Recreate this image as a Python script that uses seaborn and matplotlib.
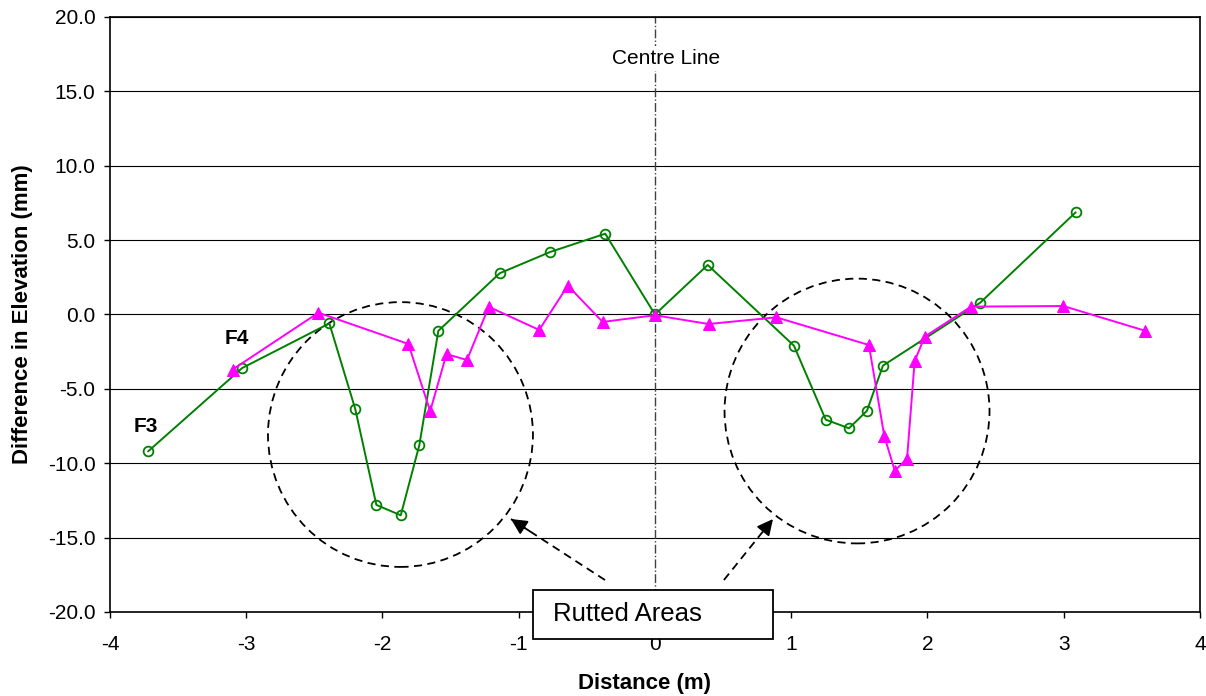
import numpy as np
import pandas as pd
import matplotlib
matplotlib.use("Agg")
import matplotlib.pyplot as plt
from matplotlib.patches import Ellipse, Rectangle
import seaborn as sns

# -----------------------
# Data
# -----------------------

f3_dist = [-3.72, -3.03, -2.39, -2.20, -2.045, -1.866, -1.73, -1.59, -1.14, -0.77,
           -0.365, 0.0, 0.387, 1.02, 1.253, 1.424, 1.556, 1.673, 2.388, 3.088]
f3_elev = [-9.2, -3.6, -0.6, -6.35, -12.8, -13.5, -8.8, -1.1, 2.77, 4.2,
           5.43, 0.0, 3.33, -2.1, -7.07, -7.65, -6.47, -3.44, 0.8, 6.87]

f4_dist = [-3.10, -2.47, -1.81, -1.65, -1.53, -1.38, -1.22, -0.85, -0.64, -0.384,
           0.0, 0.394, 0.89, 1.57, 1.683, 1.76, 1.85, 1.906, 1.98, 2.32, 2.997, 3.60]
f4_elev = [-3.7, 0.12, -1.98, -6.5, -2.66, -3.06, 0.52, -1.04, 1.94, -0.5,
           -0.05, -0.64, -0.19, -2.05, -8.17, -10.5, -9.7, -3.13, -1.49, 0.53, 0.57, -1.1]

x_ticks = [-4, -3, -2, -1, 0, 1, 2, 3, 4]
y_ticks = [-20, -15, -10, -5, 0, 5, 10, 15, 20]

df3 = pd.DataFrame({"dist": f3_dist, "elev": f3_elev})
df4 = pd.DataFrame({"dist": f4_dist, "elev": f4_elev})

# -----------------------
# Style
# -----------------------

sns.set_style("white")
plt.rcParams["font.family"] = ["Liberation Sans", "DejaVu Sans"]
plt.rcParams["text.color"] = "black"
plt.rcParams["axes.labelcolor"] = "black"
plt.rcParams["xtick.color"] = "black"
plt.rcParams["ytick.color"] = "black"

fig = plt.figure(figsize=(12.06, 6.96), dpi=100)
ax = fig.add_axes([0.0912, 0.1207, 0.9038, 0.8549])

for y in y_ticks:
    ax.axhline(y, color="black", lw=0.8, zorder=0)

# centre line
ax.axvline(0, color="#404040", lw=1.0, ls="-.", zorder=1)
ax.text(0.085, 17.2, "Centre Line", ha="center", va="center", fontsize=15,
        bbox=dict(facecolor="white", edgecolor="none", pad=2), zorder=2)

# -----------------------
# Profiles
# -----------------------

sns.lineplot(data=df3, x="dist", y="elev", sort=False, estimator=None, ax=ax,
             color="#008000", lw=1.4, marker="o", markersize=7,
             markerfacecolor="none", markeredgecolor="#008000", markeredgewidth=1.3,
             zorder=4)
sns.lineplot(data=df4, x="dist", y="elev", sort=False, estimator=None, ax=ax,
             color="#FF00FF", lw=1.4, marker="^", markersize=8.5,
             markerfacecolor="#FF00FF", markeredgecolor="#FF00FF",
             zorder=5)

ax.text(-3.74, -7.56, "F3", fontsize=15, fontweight="bold", ha="center", va="center")
ax.text(-3.07, -1.6, "F4", fontsize=15, fontweight="bold", ha="center", va="center")

# rutted areas
for cx, cy in [(-1.868, -8.07), (1.483, -6.49)]:
    ax.add_patch(Ellipse((cx, cy), 1.945, 17.8, fill=False, edgecolor="black",
                         lw=1.3, ls=(0, (4.5, 3)), zorder=3))

# dashed pointers with solid heads
for tail, head in [((-0.367, -17.85), (-1.057, -13.75)),
                   ((0.506, -17.85), (0.866, -13.75))]:
    ax.plot([tail[0], head[0]], [tail[1], head[1]], color="black", lw=1.3,
            ls=(0, (4.5, 3)), zorder=6)
    near = (head[0] + 0.2 * (tail[0] - head[0]), head[1] + 0.2 * (tail[1] - head[1]))
    ax.annotate("", xy=head, xytext=near,
                arrowprops=dict(arrowstyle="-|>", color="black", lw=1.3,
                                mutation_scale=24, shrinkA=0, shrinkB=0, alpha=1),
                zorder=6)

ax.add_patch(Rectangle((-0.895, -21.8), 1.761, 3.28, facecolor="white",
                       edgecolor="black", lw=1.3, clip_on=False, zorder=7))
ax.text(-0.75, -20.15, "Rutted Areas", fontsize=18.5, ha="left", va="center",
        zorder=8, clip_on=False)

# -----------------------
# Axes
# -----------------------

ax.set_xlim(-4, 4)
ax.set_ylim(-20, 20)
ax.set_xticks(x_ticks)
ax.set_xticklabels([str(v) for v in x_ticks])
ax.set_yticks(y_ticks)
ax.set_yticklabels([f"{v:.1f}" for v in y_ticks])
ax.tick_params(axis="both", direction="out", length=4.5, width=1, colors="black",
               labelsize=15)
ax.tick_params(axis="x", pad=12)
ax.tick_params(axis="y", pad=6)
ax.tick_params(bottom=True, left=True)

for s in ax.spines.values():
    s.set_color("black")
    s.set_linewidth(1.2)

ax.set_xlabel("Distance (m)", fontsize=16, fontweight="bold")
ax.set_ylabel("Difference in Elevation (mm)", fontsize=16, fontweight="bold")
ax.xaxis.set_label_coords(0.49, -0.1025)
ax.yaxis.set_label_coords(-0.0706, 0.5)

fig.savefig("out.png", dpi=100)
